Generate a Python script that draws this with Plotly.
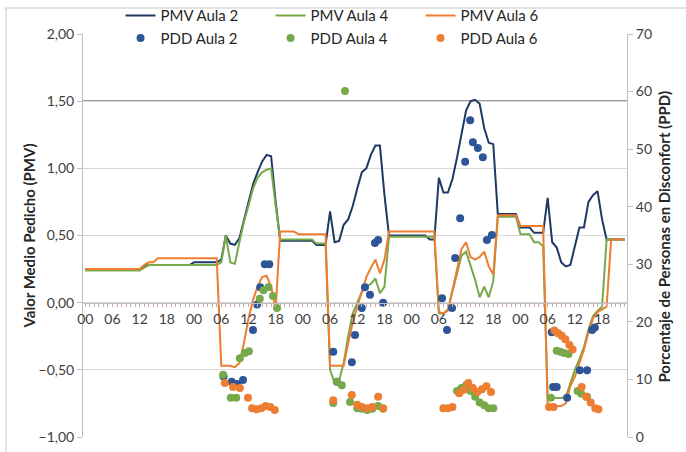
import plotly.graph_objects as go

# ---------------- data ----------------
hours = list(range(120))
tick_hours = list(range(0, 120, 6))
tick_text = ["00", "06", "12", "18"] * 5

pmv_aula2 = ([0.25] * 13 + [0.27] + [0.28] * 10 + [0.30] * 6 +
             [0.32, 0.50, 0.44, 0.43, 0.48, 0.62, 0.75, 0.88, 0.97, 1.05, 1.10, 1.09, 0.75] +
             [0.46] * 8 + [0.43] * 3 +
             [0.68, 0.45, 0.46, 0.58, 0.62, 0.72, 0.85, 0.97, 1.00, 1.10, 1.17, 1.17, 0.80] +
             [0.50] * 9 + [0.47] * 2 +
             [0.93, 0.82, 0.82, 0.92, 1.08, 1.25, 1.43, 1.50, 1.51, 1.48, 1.30, 1.19, 1.18] +
             [0.66] * 5 + [0.56] * 3 + [0.52] * 3 +
             [0.78, 0.45, 0.41, 0.30, 0.27, 0.28, 0.42, 0.56, 0.56, 0.75, 0.80, 0.83, 0.62] +
             [0.47] * 5)

pmv_aula4 = ([0.24] * 13 + [0.26] + [0.28] * 16 +
             [0.30, 0.50, 0.30, 0.29, 0.45, 0.60, 0.72, 0.85, 0.93, 0.97, 0.99, 1.00, 0.72] +
             [0.47] * 8 + [0.44] * 3 +
             [-0.50, -0.60, -0.58, -0.45, -0.25, -0.08, 0.00, 0.08, 0.12, 0.14, 0.18, 0.07, 0.12] +
             [0.49] * 11 +
             [-0.08, -0.08, -0.05, 0.08, 0.20, 0.35, 0.38, 0.28, 0.17, 0.04, 0.12, 0.04, 0.16] +
             [0.64] * 5 + [0.51] * 3 + [0.45] * 2 + [0.42] +
             [-0.71, -0.71, -0.71, -0.71, -0.70, -0.60, -0.50, -0.42, -0.33, -0.20, -0.10, -0.06, -0.03] +
             [0.47] * 5)

pmv_aula6 = ([0.25] * 13 + [0.28, 0.30, 0.30] + [0.33] * 14 +
             [-0.47, -0.47, -0.47, -0.48, -0.45, -0.30, -0.12, 0.02, 0.12, 0.19, 0.20, 0.12, -0.05] +
             [0.53] * 4 + [0.51] * 7 +
             [-0.47, -0.47, -0.47, -0.47, -0.30, -0.15, -0.03, 0.08, 0.19, 0.26, 0.32, 0.22, 0.32] +
             [0.53] * 11 +
             [-0.07, -0.08, -0.06, 0.10, 0.25, 0.40, 0.45, 0.34, 0.32, 0.34, 0.38, 0.27, 0.21] +
             [0.65] * 5 + [0.57] * 6 +
             [-0.77, -0.77, -0.77, -0.77, -0.75, -0.62, -0.55, -0.45, -0.35, -0.22, -0.12, -0.07, -0.05, -0.03] +
             [0.47] * 4)

ppd_aula2_t = [30.5, 32.3, 33.5, 34.8, 37.0, 37.9, 38.6, 39.6, 40.6,
               54.7, 55.5, 58.8, 59.5, 61.0, 61.7, 62.8, 63.9, 64.6, 65.7,
               78.7, 79.8, 80.9, 81.6, 82.7, 83.8, 84.9, 85.5, 86.6, 87.7, 88.6, 89.7,
               102.9, 103.2, 104.0, 106.3, 109.1, 110.7, 111.8, 112.4]
ppd_aula2 = [10.5, 9.6, 9.2, 9.9, 18.6, 23.0, 26.0, 30.0, 30.0,
             14.8, 9.6, 13.0, 17.7, 22.4, 26.0, 24.7, 33.7, 34.2, 23.3,
             24.1, 18.6, 22.4, 31.1, 38.0, 47.8, 55.0, 51.2, 50.2, 48.6, 34.2, 35.1,
             18.2, 8.7, 8.7, 6.8, 11.6, 11.6, 18.6, 19.0]

ppd_aula4_t = [30.4, 32.1, 33.3, 34.1, 35.2, 36.1, 38.5, 39.3, 40.4, 41.4, 42.3,
               57.3,
               54.7, 55.5, 56.6, 58.4, 60.0, 61.0, 62.2, 63.3, 64.6, 65.7,
               82.0, 83.0, 84.0, 85.0, 86.0, 87.0, 88.0, 89.0, 90.0,
               102.7, 104.0, 104.8, 105.6, 106.6, 108.6, 109.4, 110.7]
ppd_aula4 = [10.8, 6.8, 6.8, 13.7, 14.6, 14.9, 24.0, 25.5, 26.0, 24.5, 22.4,
             60.1,
             5.9, 9.6, 9.0, 6.1, 5.0, 4.9, 4.7, 4.9, 5.4, 4.9,
             8.0, 8.5, 9.0, 8.0, 7.0, 6.0, 5.5, 5.0, 5.0,
             6.8, 15.0, 14.8, 14.6, 14.4, 8.0, 7.5, 7.0]

ppd_aula6_t = [30.8, 32.6, 34.1, 35.9, 36.8, 37.8, 38.8, 39.8, 40.8, 41.8,
               54.7, 58.8, 60.0, 61.0, 62.2, 63.3, 64.6, 65.7,
               79.0, 80.0, 81.0, 82.5, 83.5, 84.5, 85.5, 86.5, 87.5, 88.5, 89.5,
               102.3, 103.3, 103.5, 104.3, 105.1, 105.9, 106.8, 107.5,
               109.5, 110.5, 111.5, 112.5, 113.2]
ppd_aula6 = [9.4, 8.7, 8.5, 6.8, 5.0, 4.8, 5.0, 5.4, 5.2, 4.7,
             6.4, 7.3, 5.6, 5.2, 5.0, 5.2, 7.0, 5.0,
             5.0, 5.0, 5.2, 7.6, 8.2, 9.4, 8.5, 7.8, 8.3, 8.8, 7.8,
             5.2, 5.2, 18.5, 18.0, 17.6, 17.0, 16.0, 15.2,
             8.7, 7.0, 6.0, 5.0, 4.8]

C_NAVY = "#1F3864"
C_BLUE = "#2E5597"
C_GREEN = "#77A94B"
C_ORANGE = "#ED7D31"
FONT = "Lato"

# ---------------- figure ----------------
fig = go.Figure()
for name, vals, col in [("PMV Aula 2", pmv_aula2, C_NAVY),
                        ("PMV Aula 4", pmv_aula4, C_GREEN),
                        ("PMV Aula 6", pmv_aula6, C_ORANGE)]:
    fig.add_trace(go.Scatter(x=hours, y=vals, mode="lines", name=name,
                             line=dict(color=col, width=2), yaxis="y"))
for name, t, vals, col in [("PDD Aula 2", ppd_aula2_t, ppd_aula2, C_BLUE),
                           ("PDD Aula 4", ppd_aula4_t, ppd_aula4, C_GREEN),
                           ("PDD Aula 6", ppd_aula6_t, ppd_aula6, C_ORANGE)]:
    fig.add_trace(go.Scatter(x=t, y=vals, mode="markers", name=name,
                             marker=dict(color=col, size=8), yaxis="y2"))

fig.update_layout(
    width=686, height=452,
    margin=dict(l=83, r=59, t=34, b=15, pad=0, autoexpand=False),
    paper_bgcolor="white", plot_bgcolor="white",
    separators=",.",
    font=dict(family=FONT, size=14, color="#404040"),
    showlegend=True,
    legend=dict(orientation="h", x=0.069, y=1.086, xanchor="left", yanchor="top",
                entrywidth=105, entrywidthmode="pixels",
                font=dict(family=FONT, size=15, color="#262626"),
                bgcolor="rgba(0,0,0,0)", tracegroupgap=0),
    xaxis=dict(range=[-0.5, 119.5], tickmode="array", tickvals=tick_hours, ticktext=tick_text,
               anchor="free", position=1/3, showline=True, linecolor="#BFBFBF", linewidth=1,
               ticks="outside", ticklen=3, tickcolor="#C9A9A9", ticklabelstandoff=1,
               minor=dict(dtick=1, tick0=0, ticks="outside", ticklen=3, tickcolor="#C9A9A9"),
               showgrid=False, zeroline=False, tickfont=dict(size=14, color="#404040")),
    yaxis=dict(range=[-1, 2], tick0=-1, dtick=0.5, tickformat=".2f",
               showgrid=True, gridcolor="#D9D9D9", zeroline=False,
               showline=True, linecolor="#BFBFBF", ticks="outside", ticklen=5, tickcolor="#BFBFBF",
               tickfont=dict(size=14, color="#404040")),
    yaxis2=dict(range=[0, 70], dtick=10, overlaying="y", side="right", showgrid=False,
                zeroline=False, showline=True, linecolor="#BFBFBF", ticks="outside",
                ticklen=5, tickcolor="#BFBFBF", tickfont=dict(size=14, color="#404040")),
)

fig.add_shape(type="line", xref="paper", yref="y", x0=0, x1=1, y0=1.5, y1=1.5,
              line=dict(color="#3A3A3A", width=1.3), layer="below")
# chart-area border (top & left)
fig.add_shape(type="line", xref="paper", yref="paper", x0=-0.143, x1=1.12, y0=1.0645, y1=1.0645,
              line=dict(color="#C8C8C8", width=1))
fig.add_shape(type="line", xref="paper", yref="paper", x0=-0.1415, x1=-0.1415, y0=-0.04, y1=1.0645,
              line=dict(color="#C8C8C8", width=1))

fig.add_annotation(text="<b>Valor Medio Pedicho (PMV)</b>", xref="paper", yref="paper",
                   x=-0.1195, y=0.5, textangle=-90, showarrow=False,
                   font=dict(family=FONT, size=15, color="#262626"))
fig.add_annotation(text="<b>Porcentaje de Personas en Disconfort (PPD)</b>", xref="paper", yref="paper",
                   x=1.088, y=0.497, textangle=-90, showarrow=False,
                   font=dict(family=FONT, size=15, color="#262626"))

fig.write_html("out.html", config={"displayModeBar": False},
               post_script="document.body.style.margin='0px';document.body.style.overflow='hidden';")
